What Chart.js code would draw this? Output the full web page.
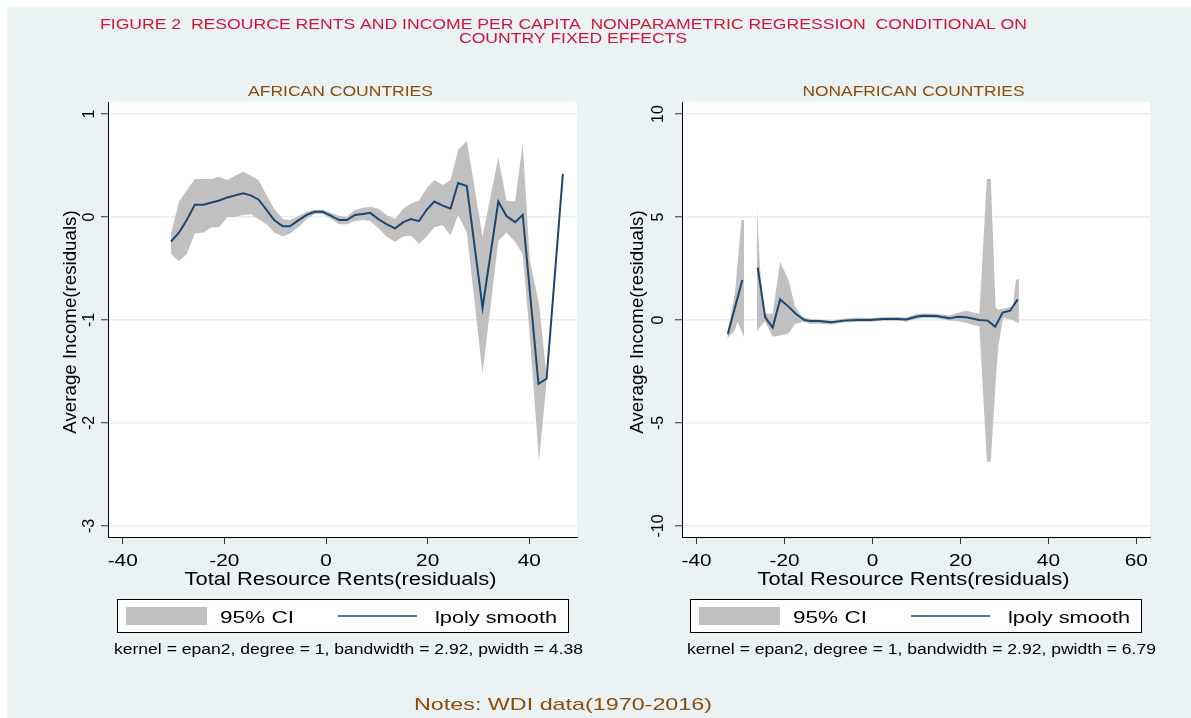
<!DOCTYPE html>
<html>
<head>
<meta charset="utf-8">
<title>Resource rents and income per capita</title>
<script src="https://cdn.jsdelivr.net/npm/chart.js"></script>
<style>
  html, body { margin: 0; padding: 0; background: #fff; }
  #bg { position: absolute; left: 7px; top: 7px; width: 1184px; height: 711px; background: #eaf2f3; }
  canvas { position: absolute; left: 0; top: 0; }
</style>
</head>
<body>
<div id="bg"></div>
<canvas id="afr" width="1191" height="718"></canvas>
<canvas id="non" width="1191" height="718"></canvas>

<script>
// ---- data ----
const xTicksAfr = [-40, -20, 0, 20, 40];
const yTicksAfr = [1, 0, -1, -2, -3];
const xTicksNon = [-40, -20, 0, 20, 40, 60];
const yTicksNon = [10, 5, 0, -5, -10];

// African countries: lpoly smooth
const afrX   = [-30.5, -28.9, -27.4, -25.8, -24.1, -22.5, -21.0, -19.4, -17.9, -16.3, -14.8, -13.3, -11.7, -10.2, -8.5, -7.1, -5.4, -3.8, -2.2, -0.65, 1.0, 2.6, 4.1, 5.7, 7.3, 8.7, 10.3, 11.9, 13.6, 15.2, 16.7, 18.3, 19.8, 21.3, 23.0, 24.5, 26.0, 27.7, 30.8, 33.9, 35.5, 37.2, 38.7, 41.8, 43.4, 46.6];
const afrFit = [-0.24, -0.15, -0.03, 0.12, 0.12, 0.14, 0.16, 0.19, 0.21, 0.23, 0.21, 0.17, 0.07, -0.03, -0.09, -0.09, -0.03, 0.02, 0.05, 0.05, 0.01, -0.03, -0.03, 0.02, 0.03, 0.04, -0.02, -0.07, -0.11, -0.05, -0.02, -0.04, 0.07, 0.15, 0.11, 0.08, 0.33, 0.30, -0.88, 0.15, 0.01, -0.05, 0.02, -1.62, -1.57, 0.42];
// African countries: 95% CI
const afrCiX  = [-30.5, -28.9, -27.4, -25.8, -24.1, -22.5, -21.0, -19.4, -17.9, -16.3, -14.8, -13.3, -11.7, -10.2, -8.5, -7.1, -5.4, -3.8, -2.2, -0.65, 1.0, 2.6, 4.1, 5.7, 7.3, 8.7, 10.3, 11.9, 13.6, 15.2, 16.7, 18.3, 19.8, 21.3, 23.0, 24.5, 26.0, 27.7, 30.8, 33.9, 35.5, 37.2, 38.7, 40.1, 41.9, 43.4];
const afrCiHi = [-0.16, 0.15, 0.26, 0.37, 0.37, 0.37, 0.39, 0.36, 0.40, 0.44, 0.40, 0.36, 0.21, 0.08, -0.02, -0.03, 0.01, 0.05, 0.07, 0.07, 0.04, 0.01, 0.0, 0.07, 0.09, 0.10, 0.08, 0.02, -0.02, 0.08, 0.13, 0.16, 0.28, 0.36, 0.31, 0.36, 0.65, 0.74, -0.19, 0.58, 0.16, 0.15, 0.71, -0.42, -0.84, -1.55];
const afrCiLo = [-0.36, -0.43, -0.36, -0.16, -0.15, -0.10, -0.10, 0.0, 0.0, 0.02, 0.03, -0.02, -0.07, -0.15, -0.19, -0.16, -0.10, -0.02, 0.03, 0.03, -0.02, -0.07, -0.07, -0.04, -0.03, -0.04, -0.11, -0.19, -0.24, -0.19, -0.18, -0.26, -0.19, -0.10, -0.08, -0.18, 0.02, -0.15, -1.52, -0.23, -0.15, -0.24, -0.36, -1.16, -2.37, -1.60];

// Non-African countries: lpoly smooth (two pieces, gap between them)
const nonX1   = [-32.9, -29.6];
const nonFit1 = [-0.68, 1.94];
const nonX2   = [-26.1, -24.4, -22.7, -21.0, -19.1, -17.4, -15.5, -14.2, -12.3, -9.3, -6.6, -3.6, -0.6, 2.4, 5.8, 7.7, 9.9, 11.5, 14.5, 17.5, 19.4, 21.3, 24.3, 26.2, 27.9, 29.6, 31.3, 33.0];
const nonFit2 = [2.54, 0.13, -0.37, 1.0, 0.65, 0.29, 0.0, -0.05, -0.05, -0.11, -0.03, 0.0, 0.0, 0.05, 0.05, 0.03, 0.16, 0.21, 0.19, 0.08, 0.16, 0.13, 0.0, -0.03, -0.32, 0.36, 0.45, 1.0];
// Non-African countries: 95% CI
const nonCiX1  = [-33.0, -31.3, -30.7, -29.8, -29.2];
const nonCiHi1 = [-0.6, 1.29, 2.7, 4.85, 4.85];
const nonCiLo1 = [-0.89, -0.5, -0.08, -0.54, -0.84];
const nonCiX2  = [-26.3, -25.6, -24.8, -24.4, -22.7, -21.0, -19.1, -17.6, -16.0, -14.9, -14.2, -12.3, -9.3, -6.6, -3.6, -0.6, 2.4, 5.8, 7.7, 9.9, 11.5, 14.5, 17.5, 19.4, 21.3, 24.3, 26.0, 26.9, 28.0, 28.6, 29.7, 31.9, 32.6, 33.3];
const nonCiHi2 = [5.5, 2.6, 0.32, 0.3, 0.3, 2.83, 1.94, 0.65, 0.16, 0.08, 0.05, 0.03, -0.02, 0.06, 0.12, 0.1, 0.13, 0.14, 0.12, 0.28, 0.32, 0.3, 0.22, 0.35, 0.45, 0.3, 6.84, 6.84, 0.6, 0.5, 0.55, 0.65, 1.94, 2.0];
const nonCiLo2 = [-0.57, -0.35, -0.15, -0.08, -0.81, -0.75, -0.65, -0.2, -0.1, -0.12, -0.19, -0.17, -0.22, -0.12, -0.08, -0.08, -0.04, -0.04, -0.07, 0.05, 0.1, 0.08, -0.02, -0.05, -0.15, -0.32, -6.88, -6.88, -3.0, -1.3, 0.1, 0.0, -0.1, -0.13];

// ---- styles ----
const NAVY = '#1a476f';
const BAND = '#c0c0c0';
const RED = '#d2143c';
const BROWN = '#8c4b0a';
const FONT = '"Liberation Sans", Arial, sans-serif';

function pts(xs, ys) { return xs.map((x, i) => ({ x: x, y: ys[i] })); }

function fitLine(xs, ys) {
  return { data: pts(xs, ys), borderColor: NAVY, borderWidth: 2, pointRadius: 0, fill: false, order: 0 };
}
function bandEdge(xs, ys, fillTo) {
  return {
    data: pts(xs, ys), borderColor: 'rgba(0,0,0,0)', borderWidth: 1, pointRadius: 0,
    fill: fillTo === undefined ? false : fillTo, backgroundColor: BAND, order: 1
  };
}

// text helper: stretch horizontally to a width, or by a factor
function txt(ctx, s, x, y, o) {
  ctx.save();
  ctx.font = o.font;
  ctx.fillStyle = o.color || '#000';
  ctx.textBaseline = o.base || 'alphabetic';
  ctx.textAlign = o.align || 'center';
  const w = ctx.measureText(s).width;
  const sx = o.width ? o.width / w : (o.sx || 1);
  ctx.translate(x, y);
  if (o.rot) ctx.rotate(o.rot);
  ctx.scale(sx, 1);
  ctx.fillText(s, 0, 0);
  ctx.restore();
}

const panelText = {
  id: 'panelText',
  beforeDraw(chart) {
    const a = chart.chartArea, ctx = chart.ctx;
    ctx.save();
    ctx.fillStyle = '#fff';
    ctx.fillRect(a.left, a.top, a.right - a.left, a.bottom - a.top);
    ctx.restore();
  },
  afterDraw(chart, args, p) {
    const ctx = chart.ctx;
    const xs = chart.scales.x, ys = chart.scales.y;

    // panel heading
    txt(ctx, p.heading, p.cx, 95.5, { font: '15px ' + FONT, color: BROWN, width: p.headingW });

    // x tick labels and title
    p.xTicks.forEach(v => {
      txt(ctx, String(v), xs.getPixelForValue(v), 566, { font: '16px ' + FONT, sx: 1.3 });
    });
    txt(ctx, 'Total Resource Rents(residuals)', p.cx, 585, { font: '18px ' + FONT, width: 312 });

    // y tick labels (vertical) and title
    p.yTicks.forEach(v => {
      txt(ctx, String(v), p.yLabX, ys.getPixelForValue(v), { font: '16px ' + FONT, base: 'middle', rot: -Math.PI / 2 });
    });
    txt(ctx, 'Average Income(residuals)', p.yTitleX, 322, { font: '18px ' + FONT, base: 'middle', rot: -Math.PI / 2, sx: 1.04 });

    // legend
    const L = p.legL;
    ctx.save();
    ctx.fillStyle = '#fff';
    ctx.fillRect(L, 599, 452, 34);
    ctx.strokeStyle = '#000';
    ctx.lineWidth = 1;
    ctx.strokeRect(L + 0.5, 599.5, 451, 33);
    ctx.fillStyle = BAND;
    ctx.fillRect(L + 9, 607, 81, 18);
    ctx.strokeStyle = NAVY;
    ctx.lineWidth = 1.6;
    ctx.beginPath();
    ctx.moveTo(L + 221, 616);
    ctx.lineTo(L + 300, 616);
    ctx.stroke();
    ctx.restore();
    txt(ctx, '95% CI', L + 103, 623, { font: '16px ' + FONT, align: 'left', width: 74 });
    txt(ctx, 'lpoly smooth', L + 318, 623, { font: '16px ' + FONT, align: 'left', width: 122 });

    // note under legend
    txt(ctx, p.note, p.noteL, 654, { font: '14px ' + FONT, align: 'left', width: 469 });

    // page-level titles (drawn once)
    if (p.page) {
      txt(ctx, 'FIGURE 2  RESOURCE RENTS AND INCOME PER CAPITA  NONPARAMETRIC REGRESSION  CONDITIONAL ON',
          563.5, 28.5, { font: '14px ' + FONT, color: RED, width: 927 });
      txt(ctx, 'COUNTRY FIXED EFFECTS', 573, 42.5, { font: '14px ' + FONT, color: RED, width: 228 });
      txt(ctx, 'Notes: WDI data(1970-2016)', 563, 710, { font: '17px ' + FONT, color: BROWN, width: 298 });
    }
  }
};

function panel(id, p) {
  return new Chart(document.getElementById(id), {
    type: 'line',
    data: { datasets: p.datasets },
    options: {
      responsive: false,
      animation: false,
      events: [],
      layout: { padding: { left: p.box.left - 8, top: p.box.top, right: 1191 - p.box.right, bottom: 718 - p.box.bottom - 8 } },
      plugins: { legend: { display: false }, tooltip: { enabled: false }, panelText: p },
      elements: { line: { tension: 0 } },
      scales: {
        x: {
          type: 'linear', min: p.xMin, max: p.xMax,
          afterBuildTicks: s => { s.ticks = p.xTicks.map(v => ({ value: v })); },
          afterFit: s => { s.height = 8; },
          ticks: { display: false },
          grid: { drawOnChartArea: false, drawTicks: true, tickLength: 7, tickColor: '#333', tickWidth: 1 },
          border: { color: '#000', width: 1 }
        },
        y: {
          type: 'linear', min: p.yMin, max: p.yMax,
          afterBuildTicks: s => { s.ticks = p.yTicks.map(v => ({ value: v })); },
          afterFit: s => { s.width = 8; },
          ticks: { display: false },
          grid: { color: '#e6eef0', lineWidth: 1.5, drawTicks: true, tickLength: 7, tickColor: '#333', tickWidth: 1 },
          border: { color: '#000', width: 1 }
        }
      }
    },
    plugins: [panelText]
  });
}

panel('afr', {
  page: true,
  box: { left: 108, right: 577, top: 102, bottom: 537 },
  xMin: -42.89, xMax: 49.38, yMin: -3.107, yMax: 1.1165,
  xTicks: xTicksAfr, yTicks: yTicksAfr,
  heading: 'AFRICAN COUNTRIES', headingW: 185, cx: 340.5,
  yLabX: 90, yTitleX: 71, legL: 117,
  note: 'kernel = epan2, degree = 1, bandwidth = 2.92, pwidth = 4.38', noteL: 114,
  datasets: [
    fitLine(afrX, afrFit),
    bandEdge(afrCiX, afrCiHi),
    bandEdge(afrCiX, afrCiLo, 1)
  ]
});

panel('non', {
  page: false,
  box: { left: 682, right: 1150, top: 102, bottom: 537 },
  xMin: -43.32, xMax: 63.1, yMin: -10.534, yMax: 10.583,
  xTicks: xTicksNon, yTicks: yTicksNon,
  heading: 'NONAFRICAN COUNTRIES', headingW: 222, cx: 913.5,
  yLabX: 659, yTitleX: 638, legL: 690,
  note: 'kernel = epan2, degree = 1, bandwidth = 2.92, pwidth = 6.79', noteL: 687,
  datasets: [
    fitLine(nonX1, nonFit1),
    fitLine(nonX2, nonFit2),
    bandEdge(nonCiX1, nonCiHi1),
    bandEdge(nonCiX1, nonCiLo1, 2),
    bandEdge(nonCiX2, nonCiHi2),
    bandEdge(nonCiX2, nonCiLo2, 4)
  ]
});
</script>
</body>
</html>
